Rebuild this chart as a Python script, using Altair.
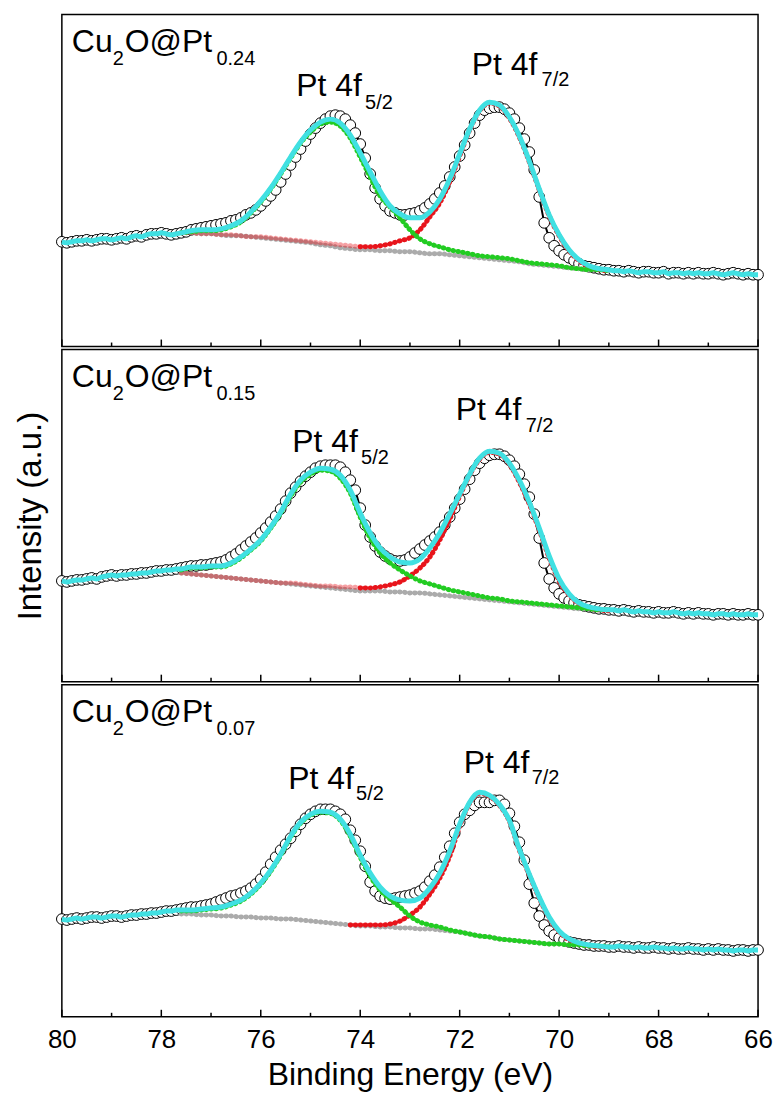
import altair as alt
import pandas as pd

# ---------------- data (intensity in arbitrary units) ----------------
E_DATA = [round(80.0 - 0.1 * i, 1) for i in range(141)]
E_FIT = [round(77.6 - 0.2 * i, 1) for i in range(44)]
E_RED_BOT = [round(74.2 - 0.2 * i, 1) for i in range(27)]

TOP_DATA = [105,
    104, 105, 106, 106, 107, 106, 107, 108, 108, 107,
    108, 109, 108, 110, 111, 110, 112, 113, 113, 114,
    113, 112, 113, 114, 115, 117, 118, 119, 120, 121,
    122, 123, 124, 126, 127, 129, 132, 134, 137, 141,
    146, 151, 157, 165, 173, 182, 190, 198, 206, 213,
    219, 224, 228, 231, 232, 231, 228, 222, 214, 203,
    189, 173, 159, 148, 141, 136, 134, 132, 132, 133,
    134, 136, 139, 143, 148, 154, 161, 170, 180, 191,
    202, 214, 224, 232, 237, 239, 240, 240, 238, 234,
    228, 219, 208, 195, 177, 150, 124, 109, 101, 96,
    92, 89, 86, 83, 81, 80, 79, 78, 77, 77,
    76, 76, 75, 76, 75, 74, 75, 75, 74, 74,
    75, 73, 74, 74, 73, 74, 73, 74, 73, 73,
    74, 73, 72, 73, 74, 73, 72, 73, 72, 72]
TOP_CYAN = [114, 116, 117, 117, 118, 121, 126, 135, 146, 159, 174, 190, 205, 217,
            225, 228, 224, 212, 194, 175, 156, 141, 133, 129, 129, 135, 148, 168, 193,
            218, 237, 245, 242, 230, 211, 186, 158, 132, 112, 97, 87, 81, 78, 77]
TOP_RED = [114, 114, 113, 113, 112, 112, 111, 110, 110, 109, 108, 107, 106, 105,
           104, 103, 102, 101, 100, 100, 101, 103, 106, 109, 117, 130, 144, 165, 191,
           217, 236, 244, 241, 229, 210, 185, 157, 131, 111, 96, 86, 80, 77, 76]
TOP_GREEN = [114, 115, 116, 116, 117, 120, 125, 134, 145, 158, 173, 189, 204, 215,
             223, 225, 221, 209, 190, 170, 151, 140, 129, 117, 108, 103, 100, 97, 95,
             93, 91, 90, 89, 88, 86, 84, 83, 82, 81, 79, 78, 77, 77, 76]
TOP_BG = [114, 114, 113, 113, 112, 111, 111, 110, 109, 108, 107, 106, 105, 104,
          102, 101, 99, 98, 97, 97, 96, 96, 95, 95, 94, 93, 93, 92, 91,
          90, 89, 88, 87, 86, 85, 83, 82, 81, 80, 79, 78, 77, 77, 76]

MID_DATA = [101,
    100, 101, 102, 102, 103, 104, 103, 105, 106, 107,
    106, 107, 107, 108, 108, 109, 109, 110, 111, 111,
    112, 112, 113, 114, 115, 116, 116, 117, 117, 118,
    119, 120, 122, 125, 128, 132, 136, 140, 144, 149,
    154, 160, 166, 173, 181, 189, 195, 201, 206, 210,
    214, 216, 217, 217, 217, 215, 210, 202, 192, 174,
    157, 145, 136, 130, 126, 123, 121, 121, 122, 125,
    129, 133, 137, 141, 145, 150, 157, 165, 174, 183,
    193, 203, 212, 219, 224, 227, 228, 228, 226, 222,
    216, 208, 198, 185, 168, 144, 119, 103, 94, 88,
    84, 81, 79, 77, 76, 75, 74, 73, 73, 72,
    72, 71, 72, 71, 70, 71, 70, 70, 69, 70,
    69, 69, 70, 69, 68, 69, 68, 69, 68, 68,
    67, 68, 68, 67, 68, 67, 67, 68, 67, 67]
MID_CYAN = [113, 115, 115, 116, 116, 119, 125, 133, 142, 155, 170, 188, 202, 210,
            214, 213, 207, 192, 169, 149, 134, 125, 120, 119, 123, 134, 149, 168, 188,
            208, 224, 231, 229, 219, 202, 180, 154, 126, 103, 88, 79, 75, 73, 72]
MID_RED = [109, 108, 107, 106, 105, 104, 103, 102, 101, 100, 99, 99, 98, 97,
           96, 96, 95, 95, 94, 94, 95, 97, 100, 106, 114, 125, 142, 163, 186,
           207, 223, 230, 228, 218, 200, 178, 152, 124, 101, 87, 78, 74, 72, 71]
MID_GREEN = [112, 114, 114, 115, 115, 118, 124, 132, 141, 154, 169, 186, 200, 208,
             212, 211, 204, 189, 165, 144, 129, 119, 112, 106, 101, 98, 95, 92, 90,
             88, 86, 84, 83, 81, 80, 79, 78, 77, 76, 75, 74, 73, 72, 72]
MID_BG = [109, 108, 107, 106, 105, 104, 103, 102, 101, 100, 99, 98, 97, 96,
          95, 94, 93, 92, 91, 91, 91, 90, 90, 89, 89, 88, 87, 86, 85,
          84, 83, 82, 81, 80, 79, 78, 77, 76, 75, 74, 73, 73, 72, 72]

BOT_DATA = [98,
    97, 98, 99, 98, 99, 100, 100, 99, 100, 101,
    101, 100, 101, 102, 102, 103, 103, 104, 104, 105,
    106, 106, 107, 108, 109, 110, 110, 111, 112, 113,
    115, 117, 119, 121, 122, 124, 126, 129, 133, 138,
    145, 153, 160, 167, 173, 179, 186, 193, 199, 203,
    206, 208, 208, 208, 206, 203, 198, 187, 177, 166,
    151, 135, 126, 121, 119, 118, 119, 120, 121, 122,
    124, 126, 130, 136, 142, 150, 160, 171, 184, 195,
    203, 207, 212, 215, 215, 215, 217, 217, 213, 204,
    191, 175, 157, 133, 114, 101, 92, 86, 82, 79,
    77, 75, 74, 73, 72, 72, 71, 71, 71, 70,
    70, 71, 70, 70, 69, 70, 69, 69, 70, 69,
    69, 68, 69, 68, 68, 69, 68, 68, 67, 68,
    67, 68, 67, 67, 66, 67, 67, 66, 67, 67]
BOT_CYAN = [107, 107, 108, 109, 110, 113, 117, 124, 134, 147, 163, 181, 195, 203,
            206, 205, 198, 183, 162, 144, 130, 121, 117, 116, 119, 129, 144, 166, 193,
            215, 225, 222, 213, 197, 168, 143, 120, 100, 86, 78, 74, 72, 71, 70]
BOT_RED = [92, 92, 92, 92, 93, 96, 102, 110, 123, 139, 161, 191, 214, 224, 221, 212,
           196, 167, 142, 119, 99, 85, 77, 73, 71, 70, 70]
BOT_GREEN = [106, 106, 107, 108, 109, 112, 116, 123, 133, 146, 162, 180, 194, 202,
             205, 204, 197, 181, 160, 141, 127, 118, 110, 101, 95, 92, 90, 87, 85,
             83, 81, 80, 78, 77, 76, 75, 74, 73, 73, 72, 72, 71, 71, 70]
BOT_BG = [103, 103, 102, 102, 101, 101, 100, 100, 99, 99, 98, 98, 97, 96,
          95, 94, 93, 92, 91, 91, 90, 90, 89, 89, 88, 88, 87, 86, 85,
          83, 81, 80, 78, 77, 76, 75, 74, 73, 73, 72, 72, 71, 71, 70]

SAMPLES = ["0.24", "0.15", "0.07"]
X_TICKS = [80, 78, 76, 74, 72, 70, 68, 66]
MINOR_TICKS = [79, 77, 75, 73, 71, 69, 67]

# ---------------- styling ----------------
W, H = 698, 333
FONT = "Liberation Sans"
CYAN = "#40E0E2"
RED = "#E8141B"
GREEN = "#22CC22"
GREY = "#ABABAB"
XS = alt.Scale(domain=[80, 66], nice=False, zero=False)
YS = alt.Scale(domain=[0, H], nice=False, zero=False)
ANCHOR = pd.DataFrame({"k": [0]})


def txt(s, x, y, size):
    return alt.Chart(ANCHOR).mark_text(
        text=s, align="left", baseline="alphabetic", fontSize=size,
        font=FONT, color="black"
    ).encode(x=alt.value(x), y=alt.value(y))


def panel(data_y, cyan_y, red_e, red_y, green_y, bg_y, sample, lab, xaxis, yaxis, pink):
    xe = alt.X("E:Q", scale=XS, axis=xaxis)
    ye = alt.Y("I:Q", scale=YS, axis=yaxis)
    d = pd.DataFrame({"E": E_DATA, "I": data_y})
    fit = pd.DataFrame({"E": E_FIT, "I": cyan_y})
    outer = d[(d.E > 77.65) | (d.E < 68.95)]
    cy = pd.concat([outer, fit]).sort_values("E").reset_index(drop=True)
    red = pd.DataFrame({"E": red_e, "I": red_y})
    green = pd.DataFrame({"E": E_FIT, "I": green_y})
    bg = pd.DataFrame({"E": E_FIT, "I": bg_y})

    def dotted(df, color, opacity=1.0):
        return alt.Chart(df).mark_line(
            color=color, strokeWidth=5, strokeDash=[0.5, 4.5], strokeCap="round",
            opacity=opacity, interpolate="monotone"
        ).encode(x=xe, y=ye)

    layers = [
        alt.Chart(d).mark_line(color="black", strokeWidth=2).encode(x=xe, y=ye),
        alt.Chart(d).mark_point(shape="circle", filled=True, fill="white", stroke="black",
                                strokeWidth=1, size=115, opacity=1).encode(x=xe, y=ye),
        dotted(bg, GREY),
    ]
    if pink:
        layers.append(dotted(red[red.E >= 73.9], RED, 0.4))
        layers.append(dotted(red[red.E <= 74.0], RED))
    else:
        layers.append(dotted(red, RED))
    layers += [
        dotted(green, GREEN),
        alt.Chart(cy).mark_line(color=CYAN, strokeWidth=5, interpolate="monotone").encode(x=xe, y=ye),
        alt.Chart(pd.DataFrame({"E": X_TICKS})).mark_rule(color="black", strokeWidth=1.5).encode(
            x=xe, y=alt.value(H), y2=alt.value(H - 7)),
        alt.Chart(pd.DataFrame({"E": MINOR_TICKS})).mark_rule(color="black", strokeWidth=1.5).encode(
            x=xe, y=alt.value(H), y2=alt.value(H - 4)),
    ]
    (cx, cb, sx, sb), (p5x, p5b, s5x, s5b), (p7x, p7b, s7x, s7b) = lab
    layers += [
        txt("Cu", cx, cb, 32), txt("2", 51, sb, 20), txt("O@Pt", 63, cb, 32), txt(sample, sx, sb, 20),
        txt("Pt 4f", p5x, p5b, 32), txt("5/2", s5x, s5b, 20),
        txt("Pt 4f", p7x, p7b, 32), txt("7/2", s7x, s7b, 20),
    ]
    return alt.layer(*layers).properties(width=W, height=H)


x_axis = alt.Axis(values=X_TICKS, ticks=False, domain=False, grid=False, labelFontSize=26,
                  labelFont=FONT, labelColor="black", labelPadding=10, labelFlush=False,
                  labelOverlap=False, format="d", title="Binding Energy (eV)",
                  titleFontSize=32, titleFont=FONT, titleFontWeight="normal",
                  titleColor="black", titlePadding=7)
y_axis = alt.Axis(labels=False, ticks=False, domain=False, grid=False,
                  title="Intensity (a.u.)", titleFontSize=33, titleFont=FONT,
                  titleFontWeight="normal", titleColor="black", titlePadding=14)

top = panel(TOP_DATA, TOP_CYAN, E_FIT, TOP_RED, TOP_GREEN, TOP_BG, SAMPLES[0],
            [(10, 38, 155, 51), (235, 82, 304, 95), (411, 61, 481, 72)], None, None, True)
mid = panel(MID_DATA, MID_CYAN, E_FIT, MID_RED, MID_GREEN, MID_BG, SAMPLES[1],
            [(10, 38, 155, 51), (231, 103, 300, 115), (395, 71, 465, 83)], None, y_axis, True)
bot = panel(BOT_DATA, BOT_CYAN, E_RED_BOT, BOT_RED, BOT_GREEN, BOT_BG, SAMPLES[2],
            [(10, 37, 155, 50), (227, 105, 295, 116), (403, 89, 471, 100)], x_axis, None, False)

chart = alt.vconcat(top, mid, bot, spacing=0).properties(
    padding={"left": 6, "top": 4, "right": 0, "bottom": 0}
).configure(font=FONT).configure_view(stroke="black", strokeWidth=1.5)

chart.save("out.html", embed_options={"renderer": "svg", "actions": False})
